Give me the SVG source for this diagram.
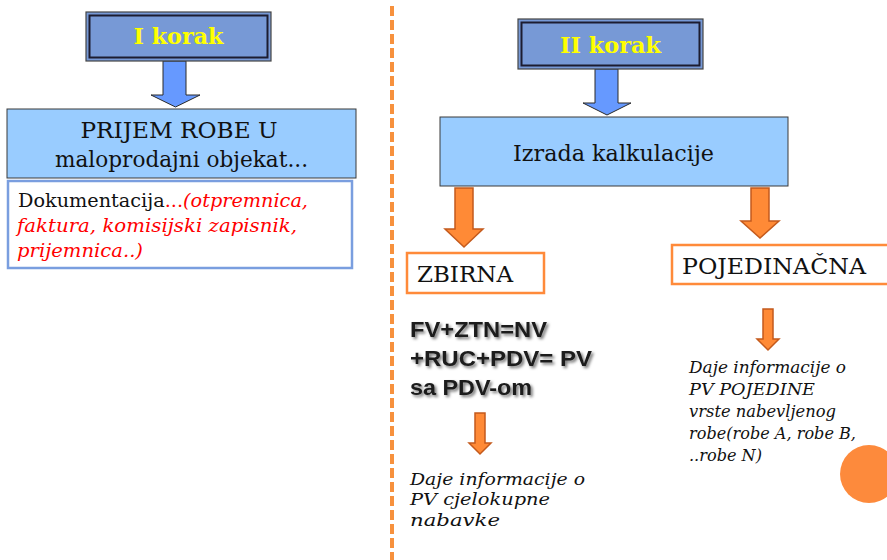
<svg xmlns="http://www.w3.org/2000/svg" width="887" height="560" viewBox="0 0 887 560">
<defs>
<style>
.step{fill:#7799D6;stroke:#454545;stroke-width:1.2}
.stepin{fill:none;stroke:#1c1c30;stroke-width:2}
.steptxt{font-family:"DejaVu Serif","Liberation Serif",serif;font-weight:bold;font-size:22px;fill:#FFFF00;text-anchor:middle}
.lblue{fill:#99CCFF;stroke:#3a3a3a;stroke-width:1}
.serif{font-family:"DejaVu Serif","Liberation Serif",serif;fill:#111}
.it{font-style:italic}
.red{fill:#FF0000}
.obox{fill:#fff;stroke:#FF8A3A;stroke-width:2.5}
.barrow{fill:#6699FF;stroke:#2a2a2a;stroke-width:1}
.oarrow{fill:#FF8A36;stroke:#C45A1C;stroke-width:1.5}
.formula{font-family:"Liberation Sans",Arial,sans-serif;font-weight:bold;font-size:22px;fill:#1a1a1a}
</style>
<filter id="sh" x="-10%" y="-30%" width="130%" height="170%">
<feDropShadow dx="2" dy="2" stdDeviation="1.4" flood-color="#000" flood-opacity="0.55"/>
</filter>
</defs>
<rect width="887" height="560" fill="#fff"/>
<line x1="392" y1="6" x2="392" y2="560" stroke="#F7913D" stroke-width="4" stroke-dasharray="10 4"/>

<g id="connectors">
<polygon class="barrow" points="163,61 186,61 186,95 200,95 175.5,107 151,95 163,95"/>
<polygon class="barrow" points="595,69 618,69 618,103 631,103 607,115 583,103 595,103"/>
<polygon class="oarrow" points="455,188 473,188 473,229 483,229 464,247 445,229 455,229"/>
<polygon class="oarrow" points="751,188 769,188 769,221 779,221 760,238 741,221 751,221"/>
<polygon class="oarrow" points="475,413 485,413 485,443 491,443 480,454 469,443 475,443"/>
<polygon class="oarrow" points="763,309 773,309 773,339 779,339 768,350 757,339 763,339"/>
</g>

<g id="korak1">
<rect class="step" x="86" y="12" width="185" height="49"/>
<rect class="stepin" x="89.5" y="15.5" width="178" height="42"/>
<text class="steptxt" x="178.5" y="44" textLength="90" lengthAdjust="spacingAndGlyphs">I korak</text>
</g>

<g id="prijem">
<rect class="lblue" x="7" y="109" width="349" height="69"/>
<text class="serif" x="179" y="138" font-size="22" text-anchor="middle" textLength="197" lengthAdjust="spacingAndGlyphs">PRIJEM ROBE U</text>
<text class="serif" x="181.5" y="167" font-size="22" text-anchor="middle" textLength="253" lengthAdjust="spacingAndGlyphs">maloprodajni objekat...</text>
</g>

<g id="dokumentacija">
<rect x="8" y="181" width="344" height="87" fill="#fff" stroke="#7A9EDF" stroke-width="2.5"/>
<text class="serif" font-size="19" x="18" y="207" textLength="290" lengthAdjust="spacingAndGlyphs">Dokumentacija<tspan class="red">...</tspan><tspan class="red it">(otpremnica,</tspan></text>
<text class="serif it red" font-size="19" x="17" y="232" textLength="280" lengthAdjust="spacingAndGlyphs">faktura, komisijski zapisnik,</text>
<text class="serif it red" font-size="19" x="17" y="257" textLength="126" lengthAdjust="spacingAndGlyphs">prijemnica..)</text>
</g>

<g id="korak2">
<rect class="step" x="518" y="19" width="185" height="50"/>
<rect class="stepin" x="521.5" y="22.5" width="178" height="43"/>
<text class="steptxt" x="610.5" y="53" textLength="101" lengthAdjust="spacingAndGlyphs">II korak</text>
</g>

<g id="izrada">
<rect class="lblue" x="440" y="117" width="348" height="69"/>
<text class="serif" x="613.5" y="161" font-size="22" text-anchor="middle" textLength="201" lengthAdjust="spacingAndGlyphs">Izrada kalkulacije</text>
</g>

<g id="zbirna">
<rect class="obox" x="407" y="253" width="137" height="40"/>
<text class="serif" x="417" y="282" font-size="23" textLength="96" lengthAdjust="spacingAndGlyphs">ZBIRNA</text>
</g>

<g id="pojedinacna">
<rect class="obox" x="672" y="245" width="220" height="39"/>
<text class="serif" x="682" y="274" font-size="23" textLength="184" lengthAdjust="spacingAndGlyphs">POJEDINAČNA</text>
</g>

<g id="formula" filter="url(#sh)">
<text class="formula" x="410" y="337" textLength="137" lengthAdjust="spacingAndGlyphs">FV+ZTN=NV</text>
<text class="formula" x="410" y="366" textLength="182" lengthAdjust="spacingAndGlyphs">+RUC+PDV= PV</text>
<text class="formula" x="410" y="395" textLength="122" lengthAdjust="spacingAndGlyphs">sa PDV-om</text>
</g>

<g id="info-zbirna">
<text class="serif it" font-size="17" x="410" y="485" textLength="175" lengthAdjust="spacingAndGlyphs">Daje informacije o</text>
<text class="serif it" font-size="17" x="410" y="505" textLength="140" lengthAdjust="spacingAndGlyphs">PV cjelokupne</text>
<text class="serif it" font-size="17" x="410" y="526" textLength="90" lengthAdjust="spacingAndGlyphs">nabavke</text>
</g>

<g id="info-pojedinacna">
<text class="serif it" font-size="16" x="689" y="373" textLength="157" lengthAdjust="spacingAndGlyphs">Daje informacije o</text>
<text class="serif it" font-size="16" x="689" y="395" textLength="126" lengthAdjust="spacingAndGlyphs">PV POJEDINE</text>
<text class="serif it" font-size="16" x="689" y="417" textLength="147" lengthAdjust="spacingAndGlyphs">vrste nabevljenog</text>
<text class="serif it" font-size="16" x="689" y="439" textLength="167" lengthAdjust="spacingAndGlyphs">robe(robe A, robe B,</text>
<text class="serif it" font-size="16" x="689" y="461" textLength="73" lengthAdjust="spacingAndGlyphs">..robe N)</text>
</g>

<circle id="deco" cx="869" cy="474" r="29" fill="#FD8A3C"/>
</svg>
